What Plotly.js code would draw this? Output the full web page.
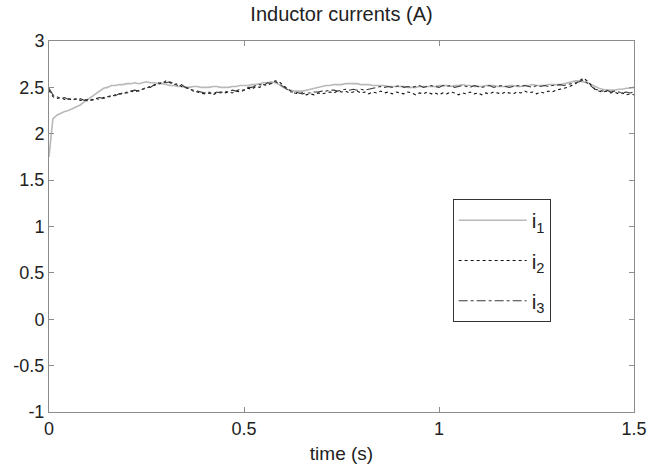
<!DOCTYPE html>
<html>
<head>
<meta charset="utf-8">
<script src="https://cdn.plot.ly/plotly-3.0.1.min.js"></script>
<style>html,body{margin:0;padding:0;background:#fff;}#chart{width:650px;height:470px;}</style>
</head>
<body>
<div id="chart"></div>
<script>
// sampling: t = 0 .. 1.5 s, step 0.01 s
const tStart = 0;
const tStep = 0.01;

const seriesNames = ["i<sub>1</sub>", "i<sub>2</sub>", "i<sub>3</sub>"];

const i1 = [1.75,2.16,2.20,2.22,2.24,2.25,2.27,2.29,2.31,2.34,
2.37,2.40,2.43,2.46,2.49,2.50,2.52,2.52,2.53,2.53,
2.54,2.54,2.55,2.54,2.55,2.56,2.55,2.55,2.54,2.54,
2.53,2.52,2.52,2.51,2.51,2.50,2.50,2.51,2.51,2.50,
2.50,2.50,2.51,2.51,2.50,2.50,2.50,2.51,2.51,2.52,
2.52,2.52,2.53,2.53,2.54,2.55,2.55,2.56,2.55,2.53,
2.50,2.48,2.47,2.46,2.46,2.46,2.47,2.48,2.49,2.50,
2.51,2.52,2.52,2.53,2.53,2.53,2.54,2.54,2.54,2.54,
2.53,2.53,2.53,2.52,2.52,2.52,2.52,2.51,2.51,2.51,
2.51,2.51,2.50,2.50,2.50,2.51,2.51,2.51,2.51,2.51,
2.52,2.52,2.52,2.51,2.52,2.52,2.53,2.52,2.52,2.51,
2.51,2.51,2.52,2.52,2.52,2.51,2.51,2.51,2.52,2.52,
2.51,2.51,2.52,2.52,2.53,2.52,2.52,2.52,2.53,2.53,
2.53,2.53,2.54,2.55,2.56,2.57,2.57,2.56,2.55,2.53,
2.51,2.49,2.48,2.47,2.47,2.47,2.48,2.48,2.49,2.49,
2.50];

const i2 = [2.47,2.40,2.38,2.39,2.37,2.38,2.36,2.38,2.36,2.37,
2.35,2.37,2.38,2.37,2.39,2.40,2.40,2.42,2.43,2.43,
2.45,2.46,2.45,2.47,2.48,2.49,2.51,2.52,2.55,2.54,
2.57,2.55,2.53,2.54,2.51,2.50,2.48,2.47,2.45,2.44,
2.43,2.44,2.42,2.44,2.45,2.44,2.45,2.44,2.46,2.45,
2.47,2.49,2.48,2.51,2.50,2.53,2.52,2.55,2.57,2.56,
2.52,2.49,2.46,2.44,2.43,2.44,2.42,2.43,2.42,2.44,
2.43,2.44,2.45,2.44,2.46,2.45,2.46,2.44,2.45,2.46,
2.44,2.45,2.43,2.45,2.44,2.46,2.44,2.45,2.43,2.45,
2.44,2.43,2.45,2.44,2.42,2.44,2.43,2.45,2.43,2.44,
2.42,2.44,2.43,2.45,2.44,2.42,2.44,2.43,2.45,2.43,
2.44,2.42,2.44,2.43,2.45,2.44,2.43,2.45,2.44,2.43,
2.45,2.44,2.46,2.44,2.45,2.43,2.45,2.44,2.46,2.45,
2.47,2.48,2.49,2.50,2.52,2.54,2.57,2.60,2.57,2.52,
2.48,2.46,2.45,2.46,2.44,2.45,2.43,2.44,2.42,2.43,
2.42];

const i3 = [2.49,2.42,2.40,2.38,2.39,2.37,2.38,2.37,2.38,2.36,
2.37,2.36,2.38,2.39,2.38,2.40,2.41,2.41,2.43,2.44,
2.44,2.46,2.47,2.46,2.48,2.50,2.50,2.53,2.53,2.56,
2.55,2.56,2.54,2.52,2.53,2.50,2.49,2.46,2.46,2.45,
2.44,2.45,2.43,2.45,2.44,2.46,2.45,2.47,2.46,2.48,
2.47,2.50,2.50,2.52,2.53,2.52,2.55,2.54,2.56,2.54,
2.51,2.48,2.45,2.45,2.44,2.43,2.44,2.44,2.45,2.45,
2.46,2.46,2.47,2.47,2.46,2.47,2.48,2.47,2.48,2.47,
2.48,2.47,2.48,2.49,2.50,2.51,2.50,2.51,2.50,2.51,
2.52,2.50,2.51,2.50,2.51,2.52,2.50,2.51,2.52,2.51,
2.50,2.52,2.51,2.52,2.50,2.51,2.52,2.51,2.50,2.52,
2.51,2.50,2.51,2.52,2.50,2.51,2.52,2.51,2.50,2.51,
2.52,2.51,2.52,2.51,2.50,2.52,2.51,2.52,2.51,2.52,
2.52,2.53,2.52,2.53,2.54,2.55,2.56,2.58,2.55,2.51,
2.48,2.47,2.46,2.47,2.45,2.46,2.45,2.44,2.45,2.44,
2.45];

const xTickVals = [0, 0.5, 1, 1.5];
const xTickText = ["0", "0.5", "1", "1.5"];
const yTickVals = [-1, -0.5, 0, 0.5, 1, 1.5, 2, 2.5, 3];
const yTickText = ["-1", "-0.5", "0", "0.5", "1", "1.5", "2", "2.5", "3"];

const FONT = "Liberation Sans, Arial, sans-serif";

const traces = [
  {y: i1, x0: tStart, dx: tStep, type: "scatter", mode: "lines", name: seriesNames[0], legendgroup: "g1",
   line: {color: "#b9b9b9", width: 1.6, dash: "solid"}},
  {y: i2, x0: tStart, dx: tStep, type: "scatter", mode: "lines", name: seriesNames[1], legendgroup: "g2",
   line: {color: "#111111", width: 1.1, dash: "dot"}},
  {y: i3, x0: tStart, dx: tStep, type: "scatter", mode: "lines", name: seriesNames[2], legendgroup: "g3",
   line: {color: "#3a3a3a", width: 1.1, dash: "dashdot"}}
];

const axisCommon = {
  showline: true, linecolor: "#8c8c8c", linewidth: 1, mirror: "ticks",
  ticks: "inside", ticklen: 5, tickcolor: "#8c8c8c",
  showgrid: false, zeroline: false,
  tickfont: {family: FONT, size: 18, color: "#222"}
};

const layout = {
  width: 650, height: 470,
  paper_bgcolor: "#fff", plot_bgcolor: "#fff",
  margin: {l: 49, r: 16, t: 41, b: 58},
  title: {text: "Inductor currents (A)", xref: "paper", x: 0.5, xanchor: "center", y: 0.985, yanchor: "top",
    font: {family: FONT, size: 20, color: "#222"}},
  xaxis: Object.assign({}, axisCommon, {
    range: [0, 1.5], tickvals: xTickVals, ticktext: xTickText, automargin: false,
    title: {text: "time (s)", standoff: 9, font: {family: FONT, size: 19, color: "#222"}}
  }),
  yaxis: Object.assign({}, axisCommon, {
    range: [-1, 3], tickvals: yTickVals, ticktext: yTickText, automargin: false
  }),
  showlegend: true,
  legend: {
    x: 0.69, y: 0.574, xanchor: "left", yanchor: "top",
    bgcolor: "#fff", bordercolor: "#333", borderwidth: 1,
    font: {family: FONT, size: 21, color: "#222"},
    tracegroupgap: 10, itemwidth: 68, entrywidth: 36, entrywidthmode: "pixels"
  }
};

Plotly.newPlot("chart", traces, layout, {displayModeBar: false, staticPlot: true});
</script>
</body>
</html>
